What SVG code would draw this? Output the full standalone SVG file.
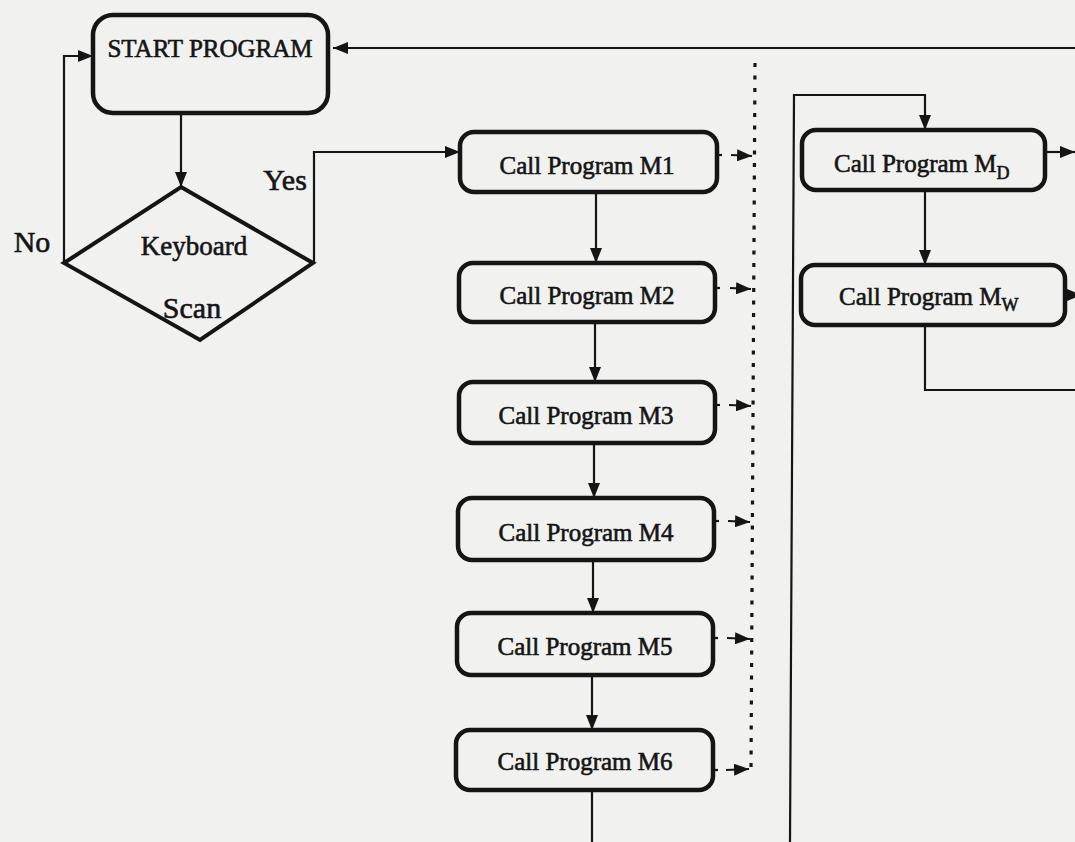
<svg xmlns="http://www.w3.org/2000/svg" width="1075" height="842" viewBox="0 0 1075 842">
  <style>
    .box { fill: none; stroke: #151515; stroke-width: 4.5; }
    .line { fill: none; stroke: #151515; stroke-width: 2.2; }
    .dots { fill: none; stroke: #151515; stroke-width: 3.2; stroke-dasharray: 4 8.5; }
    .txt { font-family: "Liberation Serif", "Times New Roman", serif; fill: #151515; stroke: #151515; stroke-width: 0.6; text-anchor: middle; }
    .call { font-size: 25px; }
    .lbl { font-size: 30px; }
  </style>
  <defs>
    <marker id="arrow" viewBox="0 0 15 12" refX="15" refY="6" markerWidth="15" markerHeight="12" markerUnits="userSpaceOnUse" orient="auto">
      <path d="M0,0 L15,6 L0,12 z" fill="#151515"/>
    </marker>
  </defs>

  <rect width="1075" height="842" fill="#f1f1f0"/>

  <!-- connectors -->
  <g id="connectors">
    <line class="line" x1="181" y1="113" x2="181" y2="187" marker-end="url(#arrow)"/>
    <polyline class="line" points="64,263 64,56 93,56" marker-end="url(#arrow)"/>
    <polyline class="line" points="314,263 314,152 460,152" marker-end="url(#arrow)"/>
    <line class="line" x1="1075" y1="48" x2="333" y2="48" marker-end="url(#arrow)"/>

    <line class="line" x1="596" y1="192" x2="596" y2="263" marker-end="url(#arrow)"/>
    <line class="line" x1="595" y1="322" x2="595" y2="382" marker-end="url(#arrow)"/>
    <line class="line" x1="594" y1="443" x2="594" y2="498" marker-end="url(#arrow)"/>
    <line class="line" x1="593" y1="560" x2="593" y2="613" marker-end="url(#arrow)"/>
    <line class="line" x1="592" y1="675" x2="592" y2="730" marker-end="url(#arrow)"/>
    <line class="line" x1="592" y1="790" x2="592" y2="842"/>

    <!-- dotted separator -->
    <line class="dots" x1="755" y1="63" x2="751" y2="770"/>

    <!-- short dashed exits toward the separator -->
    <g>
      <line class="line" x1="717" y1="155" x2="722" y2="155"/>
      <line class="line" x1="731" y1="155" x2="752" y2="156" marker-end="url(#arrow)"/>
      <line class="line" x1="715" y1="288" x2="720" y2="288"/>
      <line class="line" x1="730" y1="288" x2="751" y2="289" marker-end="url(#arrow)"/>
      <line class="line" x1="715" y1="405" x2="720" y2="405"/>
      <line class="line" x1="729" y1="405" x2="751" y2="406" marker-end="url(#arrow)"/>
      <line class="line" x1="714" y1="521" x2="719" y2="521"/>
      <line class="line" x1="728" y1="521" x2="750" y2="522" marker-end="url(#arrow)"/>
      <line class="line" x1="713" y1="638" x2="718" y2="638"/>
      <line class="line" x1="727" y1="638" x2="750" y2="639" marker-end="url(#arrow)"/>
      <line class="line" x1="713" y1="770" x2="718" y2="770"/>
      <line class="line" x1="726" y1="770" x2="749" y2="769" marker-end="url(#arrow)"/>
    </g>

    <!-- right column -->
    <polyline class="line" points="790,842 794,95 925,95 925,130" marker-end="url(#arrow)"/>
    <line class="line" x1="925" y1="190" x2="925" y2="265" marker-end="url(#arrow)"/>
    <line class="line" x1="1045" y1="152" x2="1075" y2="152" marker-end="url(#arrow)"/>
    <line class="line" x1="1065" y1="295" x2="1082" y2="295" marker-end="url(#arrow)"/>
    <polyline class="line" points="925,325 925,390 1075,390"/>
  </g>

  <!-- nodes -->
  <g id="start">
    <rect class="box" x="93" y="15" width="235" height="98" rx="20"/>
    <text class="txt call" x="210" y="57">START PROGRAM</text>
  </g>

  <g id="keyboard-scan">
    <polygon class="box" points="181,187 313,263 200,340 64,263" style="stroke-width:4"/>
    <text class="txt" x="194" y="255" font-size="27">Keyboard</text>
    <text class="txt lbl" x="192" y="318">Scan</text>
  </g>

  <g id="label-no">
    <text class="txt lbl" x="32" y="252">No</text>
  </g>
  <g id="label-yes">
    <text class="txt lbl" x="285" y="190">Yes</text>
  </g>

  <g id="m1">
    <rect class="box" x="460" y="132" width="257" height="60" rx="14"/>
    <text class="txt call" x="587" y="174">Call Program M1</text>
  </g>
  <g id="m2">
    <rect class="box" x="459" y="263" width="256" height="59" rx="14"/>
    <text class="txt call" x="587" y="304">Call Program M2</text>
  </g>
  <g id="m3">
    <rect class="box" x="459" y="382" width="256" height="61" rx="14"/>
    <text class="txt call" x="586" y="424">Call Program M3</text>
  </g>
  <g id="m4">
    <rect class="box" x="458" y="498" width="256" height="62" rx="14"/>
    <text class="txt call" x="586" y="541">Call Program M4</text>
  </g>
  <g id="m5">
    <rect class="box" x="457" y="613" width="256" height="62" rx="14"/>
    <text class="txt call" x="585" y="655">Call Program M5</text>
  </g>
  <g id="m6">
    <rect class="box" x="456" y="730" width="257" height="60" rx="14"/>
    <text class="txt call" x="585" y="770">Call Program M6</text>
  </g>

  <g id="md">
    <rect class="box" x="802" y="130" width="243" height="60" rx="14"/>
    <text class="txt call" x="834" y="172" style="text-anchor:start">Call Program M<tspan font-size="18" dy="7">D</tspan></text>
  </g>
  <g id="mw">
    <rect class="box" x="801" y="265" width="264" height="60" rx="14"/>
    <text class="txt call" x="839" y="305" style="text-anchor:start">Call Program M<tspan font-size="18" dy="6">W</tspan></text>
  </g>
</svg>
